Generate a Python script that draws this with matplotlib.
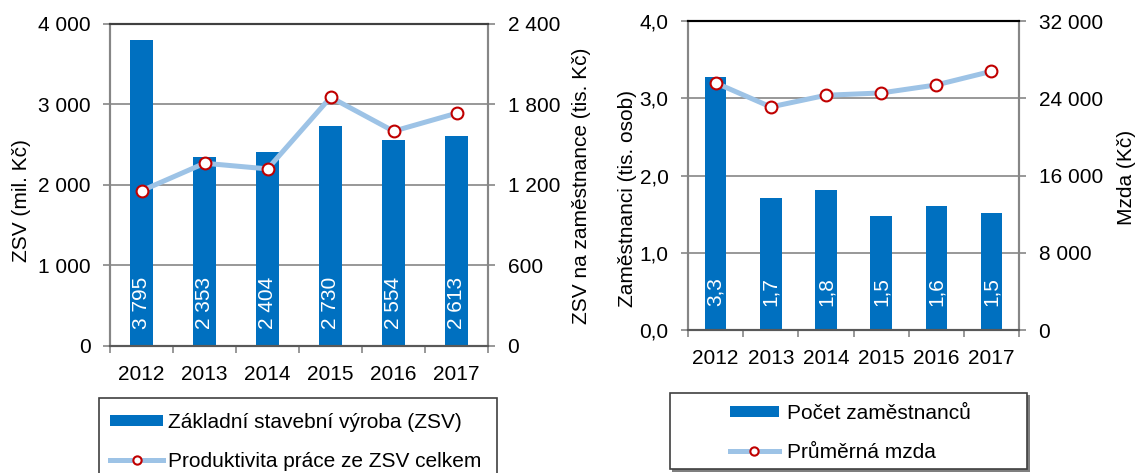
"""
ZSV a zaměstnanci 2012–2017 — dva sloupcové grafy s čarou na vedlejší ose
"""

import matplotlib

matplotlib.use("Agg")
import matplotlib.pyplot as plt
import numpy as np
from matplotlib.patches import Rectangle
from matplotlib.ticker import FixedLocator, FuncFormatter

plt.rcParams["font.family"] = ["Liberation Sans", "DejaVu Sans"]

# ── Colors ─────────────────────────────────────────────
BAR_BLUE = "#0070C0"
LINE_BLUE = "#9DC3E6"
MARK_RED = "#C00000"
GRID_GRAY = "#868686"
DARK_GRAY = "#404040"

# ── Data ───────────────────────────────────────────────
years = ["2012", "2013", "2014", "2015", "2016", "2017"]

zsv = [3795, 2353, 2404, 2730, 2554, 2613]               # mil. Kč
productivity = [1157, 1362, 1320, 1854, 1601, 1735]      # tis. Kč na zaměstnance

employees = [3.27, 1.71, 1.81, 1.48, 1.61, 1.51]         # tis. osob
wage = [25590, 23100, 24310, 24550, 25380, 26790]        # Kč

FS = 15


def thousands(v, _pos=None):
    return f"{v:,.0f}".replace(",", " ")


def decimal_comma(v, _pos=None):
    return f"{v:.1f}".replace(".", ",")


def style_axes(ax, ax2, top_color):
    ax.set_xlim(-0.5, len(years) - 0.5)
    ax.set_xticks(np.arange(len(years)))
    ax.set_xticklabels(years)
    ax.xaxis.set_minor_locator(FixedLocator(np.arange(len(years) + 1) - 0.5))
    ax.tick_params(axis="x", which="major", length=0, pad=14, labelsize=FS)
    ax.tick_params(axis="x", which="minor", length=5, width=1.2, color=GRID_GRAY)
    ax.tick_params(axis="y", length=5, width=1.2, color=GRID_GRAY, pad=9, labelsize=FS)
    ax2.tick_params(axis="y", length=5, width=1.2, color=GRID_GRAY, pad=9, labelsize=FS)
    ax.grid(True, axis="y", color=GRID_GRAY, linewidth=1.2)
    ax.set_axisbelow(True)
    for a in (ax, ax2):
        a.spines["left"].set_color(GRID_GRAY)
        a.spines["right"].set_color(GRID_GRAY)
        a.spines["bottom"].set_color("#595959")
        a.spines["top"].set_color(top_color)
        for s in a.spines.values():
            s.set_linewidth(1.5)


fig = plt.figure(figsize=(11.38, 4.73), dpi=100)
fig.patch.set_facecolor("white")

x = np.arange(len(years))

# ── Left chart: ZSV ────────────────────────────────────
ax1 = fig.add_axes([0.0967, 0.2685, 0.3322, 0.6808])
ax1b = ax1.twinx()

bars1 = ax1.bar(x, zsv, width=0.37, color=BAR_BLUE, label="Základní stavební výroba (ZSV)")
for xi, v in zip(x, zsv):
    ax1.annotate(thousands(v), (xi, 0), xytext=(0, 12), textcoords="offset points",
                 rotation=90, ha="center", va="bottom", color="white", fontsize=FS)

line1, = ax1b.plot(x, productivity, color=LINE_BLUE, linewidth=3.6, marker="o",
                   markersize=8.5, markerfacecolor="white", markeredgecolor=MARK_RED,
                   markeredgewidth=1.5, label="Produktivita práce ze ZSV celkem")

ax1.set_ylim(0, 4000)
ax1.set_yticks([0, 1000, 2000, 3000, 4000])
ax1.yaxis.set_major_formatter(FuncFormatter(thousands))
ax1b.set_ylim(0, 2400)
ax1b.set_yticks([0, 600, 1200, 1800, 2400])
ax1b.yaxis.set_major_formatter(FuncFormatter(thousands))
style_axes(ax1, ax1b, DARK_GRAY)

ax1.set_ylabel("ZSV (mil. Kč)", fontsize=FS)
ax1.yaxis.set_label_coords(-0.21, 0.453)
ax1b.set_ylabel("ZSV na zaměstnance (tis. Kč)", fontsize=FS)
ax1b.yaxis.set_label_coords(1.222, 0.497)

# ── Right chart: zaměstnanci a mzda ────────────────────
ax2 = fig.add_axes([0.6046, 0.3023, 0.2909, 0.6533])
ax2b = ax2.twinx()

bars2 = ax2.bar(x, employees, width=0.39, color=BAR_BLUE, label="Počet zaměstnanců")
for xi, v in zip(x, employees):
    ax2.annotate(decimal_comma(v), (xi, 0), xytext=(0, 17), textcoords="offset points",
                 rotation=90, ha="center", va="bottom", color="white", fontsize=FS)

line2, = ax2b.plot(x, wage, color=LINE_BLUE, linewidth=3.6, marker="o",
                   markersize=8.5, markerfacecolor="white", markeredgecolor=MARK_RED,
                   markeredgewidth=1.5, label="Průměrná mzda")

ax2.set_ylim(0, 4)
ax2.set_yticks([0, 1, 2, 3, 4])
ax2.yaxis.set_major_formatter(FuncFormatter(decimal_comma))
ax2b.set_ylim(0, 32000)
ax2b.set_yticks([0, 8000, 16000, 24000, 32000])
ax2b.yaxis.set_major_formatter(FuncFormatter(thousands))
style_axes(ax2, ax2b, "black")

ax2.set_ylabel("Zaměstnanci (tis. osob)", fontsize=FS)
ax2.yaxis.set_label_coords(-0.154, 0.424)
ax2b.set_ylabel("Mzda (Kč)", fontsize=FS)
ax2b.yaxis.set_label_coords(1.296, 0.495)

# ── Legends (frames drawn by hand) ─────────────────────
W, H = 1138, 473


def px_rect(x0, y0, x1, y1, **kw):
    return Rectangle((x0 / W, 1 - y1 / H), (x1 - x0) / W, (y1 - y0) / H,
                     transform=fig.transFigure, **kw)


fig.patches.append(px_rect(99, 398, 497, 490, facecolor="white", edgecolor=DARK_GRAY, linewidth=1.2))
fig.patches.append(px_rect(672, 395, 1030, 472, facecolor="#7f7f7f", edgecolor="none"))
fig.patches.append(px_rect(670, 393, 1027, 469, facecolor="white", edgecolor=DARK_GRAY, linewidth=1.2))

leg_kw = dict(frameon=False, loc="upper left", fontsize=FS, borderpad=0, borderaxespad=0,
              handleheight=0.45, labelspacing=0.95, numpoints=1, markerscale=0.7)
fig.legend([bars1, line1], [bars1.get_label(), line1.get_label()],
           bbox_to_anchor=(110 / W, 1 - 413 / H), handlelength=2.55, handletextpad=0.25, **leg_kw)
fig.legend([bars2, line2], [bars2.get_label(), line2.get_label()],
           bbox_to_anchor=(730 / W, 1 - 404 / H), handlelength=2.35, handletextpad=0.4, **leg_kw)

fig.savefig("out.png", dpi=100, facecolor="white")
plt.close()
